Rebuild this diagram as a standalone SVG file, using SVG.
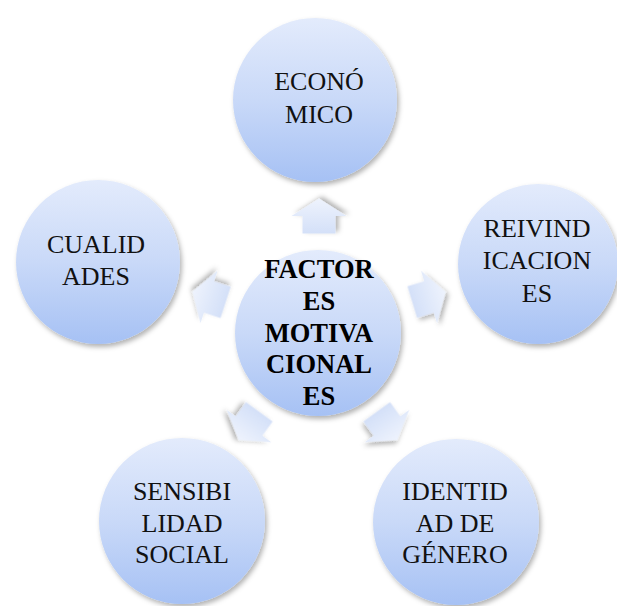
<svg xmlns="http://www.w3.org/2000/svg" width="617" height="606" viewBox="0 0 617 606">
<defs>
<linearGradient id="cg" x1="0" y1="0" x2="0" y2="1">
<stop offset="0" stop-color="#e3ebfc"/>
<stop offset="0.5" stop-color="#c9d9f8"/>
<stop offset="1" stop-color="#a6c1f4"/>
</linearGradient>
<linearGradient id="ag" x1="0" y1="0" x2="1" y2="0">
<stop offset="0" stop-color="#d4e0f8"/>
<stop offset="1" stop-color="#eef3fd"/>
</linearGradient>
<filter id="sh" x="-20%" y="-20%" width="140%" height="140%">
<feDropShadow dx="2" dy="3" stdDeviation="2.5" flood-color="#000" flood-opacity="0.3"/>
</filter>
<path id="arr" d="M -17.5,-16.5 L 0,-16.5 L 0,-27.5 L 17.5,0 L 0,27.5 L 0,16.5 L -17.5,16.5 Z"/>
</defs>
<style>
.c{fill:url(#cg);filter:url(#sh)}
.a{fill:url(#ag);filter:url(#sh)}
text{font-family:"Liberation Serif","Times New Roman",serif;font-size:26px;fill:#111;text-anchor:middle}
.b{font-weight:bold;font-size:26.5px;fill:#000}
</style>
<rect width="617" height="606" fill="#fff"/>
<g id="connectors">
<use href="#arr" class="a" transform="translate(319,216) rotate(-90)"/>
<use href="#arr" class="a" transform="translate(209,297) rotate(198)"/>
<use href="#arr" class="a" transform="translate(429,297) rotate(-17)"/>
<use href="#arr" class="a" transform="translate(249,426) rotate(126)"/>
<use href="#arr" class="a" transform="translate(387,426) rotate(54)"/>
</g>
<g id="center">
<circle class="c" cx="318" cy="333" r="83"/>
<text class="b" x="319" y="278">FACTOR</text>
<text class="b" x="319" y="310">ES</text>
<text class="b" x="319" y="342">MOTIVA</text>
<text class="b" x="319" y="373">CIONAL</text>
<text class="b" x="319" y="405">ES</text>
</g>
<g id="economico">
<circle class="c" cx="315" cy="100" r="82"/>
<text x="319" y="90">ECONÓ</text>
<text x="319" y="123">MICO</text>
</g>
<g id="cualidades">
<circle class="c" cx="98" cy="262" r="82"/>
<text x="96" y="253">CUALID</text>
<text x="96" y="285">ADES</text>
</g>
<g id="reivindicaciones">
<circle class="c" cx="538" cy="264" r="80"/>
<text x="537" y="237">REIVIND</text>
<text x="537" y="269">ICACION</text>
<text x="537" y="302">ES</text>
</g>
<g id="sensibilidad">
<circle class="c" cx="182" cy="521" r="83"/>
<text x="182" y="500">SENSIBI</text>
<text x="182" y="532">LIDAD</text>
<text x="182" y="563">SOCIAL</text>
</g>
<g id="identidad">
<circle class="c" cx="456" cy="522" r="83"/>
<text x="455" y="500">IDENTID</text>
<text x="455" y="532">AD DE</text>
<text x="455" y="563">GÉNERO</text>
</g>
</svg>
